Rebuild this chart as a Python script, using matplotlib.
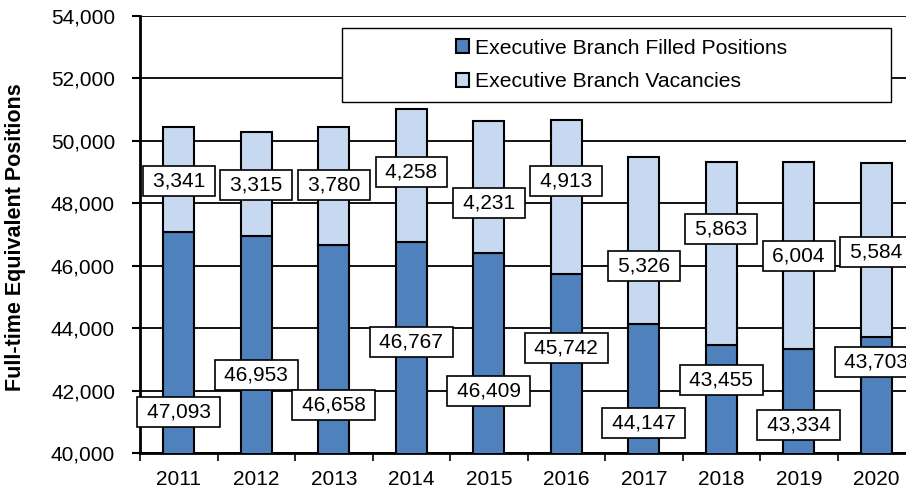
import matplotlib.pyplot as plt
from matplotlib.patches import Rectangle

plt.rcParams['font.family'] = ['Liberation Sans', 'DejaVu Sans']

years = ['2011', '2012', '2013', '2014', '2015', '2016', '2017', '2018', '2019', '2020']
filled = [47093, 46953, 46658, 46767, 46409, 45742, 44147, 43455, 43334, 43703]
vacancies = [3341, 3315, 3780, 4258, 4231, 4913, 5326, 5863, 6004, 5584]

# hand-placed label heights (data units), as in the original chart
filled_label_y = [41314, 42499, 41538, 43556, 41986, 43364, 40961, 42339, 40897, 42916]
vacancy_label_y = [48715, 48587, 48587, 49003, 48010, 48715, 45991, 47177, 46312, 46440]

dark = '#4F81BD'
light = '#C6D9F1'

fig = plt.figure(figsize=(9.06, 4.91), dpi=100)
ax = fig.add_axes([140 / 906, 38 / 491, 775 / 906, 437 / 491])

x = list(range(len(years)))
w = 0.4
ax.bar(x, filled, width=w, color=dark, edgecolor='black', linewidth=1.5, zorder=3,
       label='Executive Branch Filled Positions')
ax.bar(x, vacancies, width=w, bottom=filled, color=light, edgecolor='black', linewidth=1.5,
       zorder=3, label='Executive Branch Vacancies')

box = dict(boxstyle='square,pad=0.27', facecolor='white', edgecolor='black', linewidth=1.2)
for i in x:
    ax.text(i, filled_label_y[i], f'\u2009{filled[i]:,}\u2009', ha='center', va='center',
            fontsize=15, bbox=box, zorder=5)
    ax.text(i, vacancy_label_y[i], f'\u2009{vacancies[i]:,}\u2009', ha='center', va='center',
            fontsize=15, bbox=box, zorder=5)

ax.set_ylim(40000, 54000)
ax.set_xlim(-0.5, len(years) - 0.5)
ax.set_yticks(range(40000, 54001, 2000))
ax.set_yticklabels([f'{v:,}' for v in range(40000, 54001, 2000)])
ax.set_xticks(x)
ax.set_xticklabels(years)
ax.set_xticks([i + 0.5 for i in range(-1, len(years))], minor=True)
ax.tick_params(axis='x', which='major', length=0, pad=12, labelsize=15)
ax.tick_params(axis='x', which='minor', length=6, width=1.2, direction='out')
ax.tick_params(axis='y', length=6, width=1.5, pad=12, labelsize=15)
ax.grid(axis='y', color='black', linewidth=1.3, zorder=0)
ax.set_axisbelow(True)
for s in ['top', 'right']:
    ax.spines[s].set_visible(False)
for s in ['left', 'bottom']:
    ax.spines[s].set_linewidth(2)

ax.set_ylabel('Full-time Equivalent Positions', fontsize=15.5, fontweight='bold')
ax.yaxis.set_label_coords(-114 / 775, (453 - 237) / 437)

# legend frame drawn separately so it can be wider than its contents
ax.add_patch(Rectangle((0.261, 0.803), 0.708, 0.17, transform=ax.transAxes,
                       facecolor='white', edgecolor='black', linewidth=1.0, zorder=6))
leg = ax.legend(loc='center', bbox_to_anchor=(0.622, 0.888), frameon=False, fontsize=15.2,
                handlelength=0.6, handleheight=0.6, handletextpad=0.3, labelspacing=0.7)
leg.set_zorder(7)

fig.savefig('out.png', dpi=100)
